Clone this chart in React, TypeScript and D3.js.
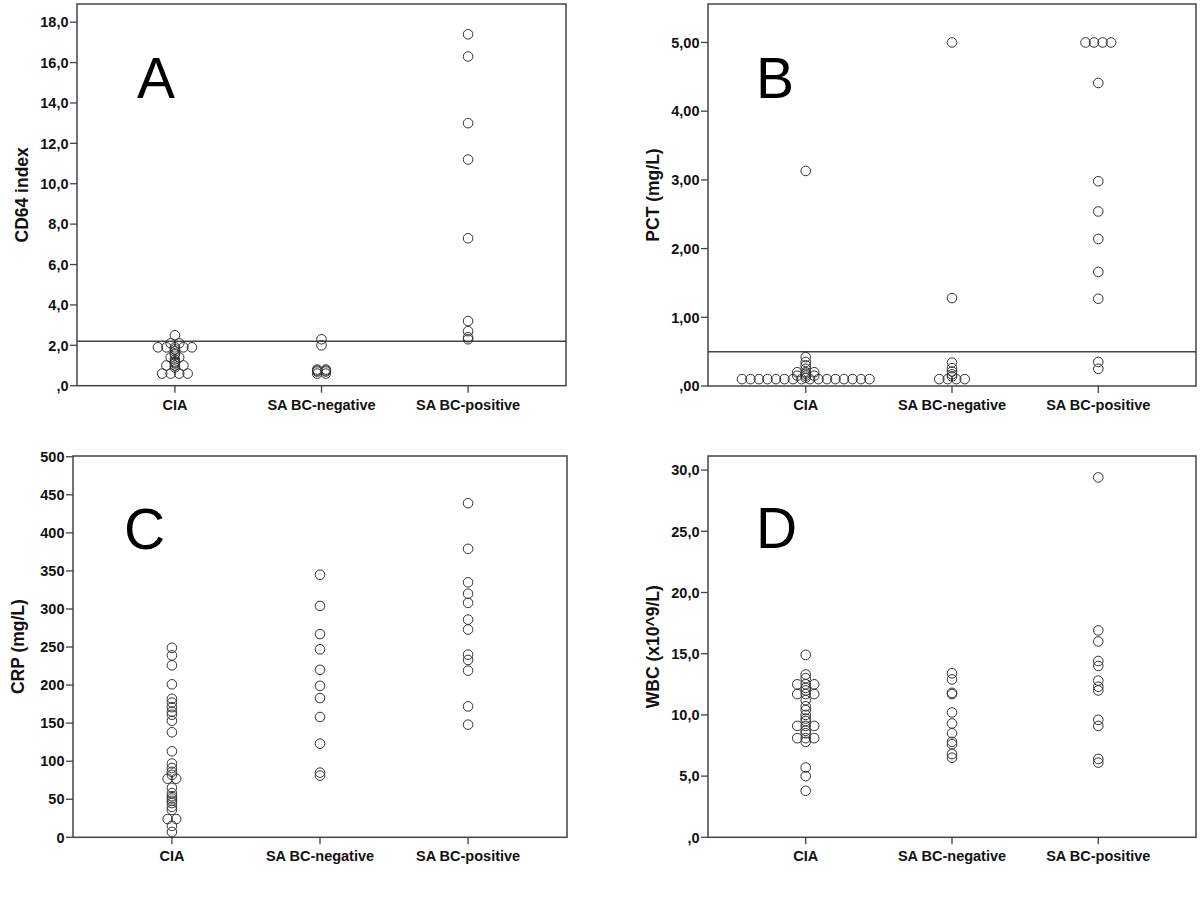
import React from "react";
import * as d3 from "d3";

const CATEGORIES = ["CIA", "SA BC-negative", "SA BC-positive"];

// Panel A – CD64 index
const CD64_CIA = [2.5, 2.1, 2.1, 1.9, 1.9, 1.9, 1.9, 1.9, 1.8, 1.7, 1.6, 1.55, 1.4, 1.4, 1.3, 1.2, 1.15, 1.1, 1.0, 1.0, 1.0, 0.9, 0.6, 0.6, 0.6, 0.6];
const CD64_NEG = [2.3, 2.0, 0.8, 0.8, 0.75, 0.75, 0.7, 0.7, 0.6, 0.6];
const CD64_POS = [17.4, 16.3, 13.0, 11.2, 7.3, 3.2, 2.7, 2.4, 2.3];
const CD64_TICKS = [0, 2, 4, 6, 8, 10, 12, 14, 16, 18];
const CD64_CUTOFF = 2.2;

// Panel B – PCT
const PCT_CIA = [3.13, 0.42, 0.35, 0.3, 0.25, 0.2, 0.2, 0.2, 0.18, 0.15, 0.15, 0.15, 0.12,
  0.1, 0.1, 0.1, 0.1, 0.1, 0.1, 0.1, 0.1, 0.1, 0.1, 0.1, 0.1, 0.1, 0.1, 0.1, 0.1];
const PCT_NEG = [5.0, 1.28, 0.34, 0.26, 0.21, 0.17, 0.14, 0.1, 0.1, 0.1, 0.1];
const PCT_POS = [5.0, 5.0, 5.0, 5.0, 4.41, 2.98, 2.54, 2.14, 1.66, 1.27, 0.35, 0.25];
const PCT_TICKS = [0, 1, 2, 3, 4, 5];
const PCT_CUTOFF = 0.5;

// Panel C – CRP
const CRP_CIA = [249, 239, 226, 201, 182, 177, 171, 165, 161, 153, 138, 113, 97, 91, 86, 82, 77, 77, 65, 58, 54, 51, 48, 45, 40, 36, 24, 24, 15, 7];
const CRP_NEG = [345, 304, 267, 247, 220, 199, 183, 158, 123, 85, 81];
const CRP_POS = [439, 379, 335, 320, 308, 286, 273, 240, 233, 219, 172, 148];
const CRP_TICKS = [0, 50, 100, 150, 200, 250, 300, 350, 400, 450, 500];

// Panel D – WBC
const WBC_CIA = [14.9, 13.3, 13.0, 12.5, 12.5, 12.5, 12.2, 12.0, 11.7, 11.7, 11.7, 11.2, 10.7, 10.4, 10.0, 9.7, 9.5, 9.1, 9.1, 9.1, 8.7, 8.5, 8.1, 8.1, 8.1, 7.8, 5.7, 5.0, 3.8];
const WBC_NEG = [13.4, 12.9, 11.8, 11.7, 10.2, 9.3, 8.5, 7.8, 7.6, 6.8, 6.5];
const WBC_POS = [29.4, 16.9, 16.0, 14.4, 14.0, 12.8, 12.3, 12.0, 9.6, 9.1, 6.4, 6.1];
const WBC_TICKS = [0, 5, 10, 15, 20, 25, 30];

const fmtDec = (n: number) => (d: number) =>
  d === 0 ? "," + "0".repeat(n) : d.toFixed(n).replace(".", ",");

const panels = [
  { letter: "A", title: "CD64 index", series: [CD64_CIA, CD64_NEG, CD64_POS], ticks: CD64_TICKS, max: 18.9, fmt: fmtDec(1), cutoff: CD64_CUTOFF,
    box: { l: 77, r: 566, t: 4, b: 385.7 }, letterPos: { x: 137, y: 98 } },
  { letter: "B", title: "PCT (mg/L)", series: [PCT_CIA, PCT_NEG, PCT_POS], ticks: PCT_TICKS, max: 5.56, fmt: fmtDec(2), cutoff: PCT_CUTOFF,
    box: { l: 708, r: 1196, t: 4, b: 386 }, letterPos: { x: 756, y: 98 } },
  { letter: "C", title: "CRP (mg/L)", series: [CRP_CIA, CRP_NEG, CRP_POS], ticks: CRP_TICKS, max: 501, fmt: (d: number) => String(d), cutoff: null,
    box: { l: 73, r: 567, t: 456, b: 837.3 }, letterPos: { x: 124, y: 549 } },
  { letter: "D", title: "WBC (x10^9/L)", series: [WBC_CIA, WBC_NEG, WBC_POS], ticks: WBC_TICKS, max: 31.15, fmt: fmtDec(1), cutoff: null,
    box: { l: 708, r: 1196, t: 456, b: 837.3 }, letterPos: { x: 756, y: 548 } },
];

const FONT = "'Liberation Sans', Arial, Helvetica, sans-serif";
const STEP = 8.5;
const R = 4.8;
const FRAME = "#444";

function dodge(values: number[]) {
  const counts = new Map<string, number>();
  values.forEach((v) => counts.set(v.toFixed(4), (counts.get(v.toFixed(4)) || 0) + 1));
  const seen = new Map<string, number>();
  return values.map((v) => {
    const k = v.toFixed(4);
    const n = counts.get(k)!;
    const i = seen.get(k) || 0;
    seen.set(k, i + 1);
    return { v, off: (i - (n - 1) / 2) * STEP };
  });
}

function Panel({ p }: { p: (typeof panels)[number] }) {
  const { l, r, t, b } = p.box;
  const x = d3.scalePoint<string>().domain(CATEGORIES).range([l, r]).padding(0.668);
  const y = d3.scaleLinear().domain([0, p.max]).range([b, t]);
  return (
    <g>
      {p.ticks.map((tk) => (
        <g key={"y" + tk}>
          <line x1={l - 7} x2={l} y1={y(tk)} y2={y(tk)} stroke={FRAME} strokeWidth={1.3} />
          <text x={l - 8.5} y={y(tk)} dy="0.36em" textAnchor="end" fontFamily={FONT} fontWeight="bold" fontSize={14.5} fill="#111">
            {p.fmt(tk)}
          </text>
        </g>
      ))}
      {CATEGORIES.map((c) => (
        <g key={"x" + c}>
          <line x1={x(c)} x2={x(c)} y1={b} y2={b + 7} stroke={FRAME} strokeWidth={1.3} />
          <text x={x(c)} y={b + 24} textAnchor="middle" fontFamily={FONT} fontWeight="bold" fontSize={14.5} fill="#111">
            {c}
          </text>
        </g>
      ))}
      <text transform={`translate(${l - 55},${(t + b) / 2}) rotate(-90)`} dy="0.36em" textAnchor="middle" fontFamily={FONT} fontWeight="bold" fontSize={17.5} fill="#111">
        {p.title}
      </text>
      <text x={p.letterPos.x} y={p.letterPos.y} fontFamily={FONT} fontSize={57} fill="#000">
        {p.letter}
      </text>
      {p.cutoff !== null && (
        <line x1={l} x2={r} y1={y(p.cutoff)} y2={y(p.cutoff)} stroke={FRAME} strokeWidth={1.5} />
      )}
      {p.series.map((vals, si) =>
        dodge(vals).map((d, i) => (
          <circle key={si + "-" + i} cx={(x(CATEGORIES[si]) as number) + d.off} cy={y(d.v)} r={R} fill="none" stroke="#333" strokeWidth={1} />
        ))
      )}
      <rect x={l} y={t} width={r - l} height={b - t} fill="none" stroke={FRAME} strokeWidth={1.5} />
    </g>
  );
}

export default function App() {
  return (
    <svg width={1200} height={900} style={{ position: "absolute", left: 0, top: 0, background: "#fff" }}>
      <rect x={0} y={0} width={1200} height={900} fill="#fff" />
      {panels.map((p) => (
        <Panel key={p.letter} p={p} />
      ))}
    </svg>
  );
}
